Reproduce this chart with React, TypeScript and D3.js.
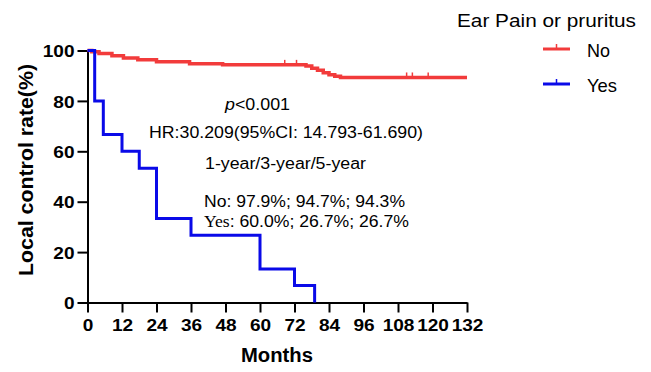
import React, { useEffect, useRef } from "react";
import * as d3 from "d3";

// Kaplan-Meier steps (months, % local control)
const noTimes = [0, 1.5, 4, 8.5, 12.5, 17.5, 24, 35.5, 47, 76, 78, 80, 82, 84, 86, 88, 132];
const noRates = [100, 99.5, 98.8, 97.9, 97.0, 96.3, 95.5, 94.7, 94.3, 93.8, 93.0, 92.2, 91.2, 90.4, 89.8, 89.3, 89.3];
const noCensored = [68.6, 72.7, 111, 113, 118.5];

const yesTimes = [0, 2.5, 5.5, 12, 18, 24, 36, 60, 72, 79];
const yesRates = [100, 80, 66.7, 60, 53.3, 33.3, 26.7, 13.3, 6.7, 0];

const xTicks = [0, 12, 24, 36, 48, 60, 72, 84, 96, 108, 120, 132];
const yTicks = [0, 20, 40, 60, 80, 100];

const groups = ["No", "Yes"];
const colors = { No: "#f23b3b", Yes: "#0a0ae8" };

const FONT = "'Liberation Sans', Arial, sans-serif";

function App() {
  const svgRef = useRef(null);

  useEffect(() => {
    const svg = d3.select(svgRef.current);
    svg.selectAll("*").remove();

    const x = d3.scaleLinear().domain([0, 132]).range([87.5, 467]);
    const y = d3.scaleLinear().domain([0, 100]).range([302.5, 50.5]);

    const line = d3
      .line()
      .curve(d3.curveStepAfter)
      .x((d) => x(d[0]))
      .y((d) => y(d[1]));

    const noData = noTimes.map((t, i) => [t, noRates[i]]);
    const yesData = yesTimes.map((t, i) => [t, yesRates[i]]);

    // axes
    const xAxis = svg
      .append("g")
      .attr("transform", `translate(0,${y(0)})`)
      .call(d3.axisBottom(x).tickValues(xTicks).tickSize(10).tickPadding(6).tickSizeOuter(0));
    const yAxis = svg
      .append("g")
      .attr("transform", `translate(${x(0)},0)`)
      .call(d3.axisLeft(y).tickValues(yTicks).tickSize(10).tickPadding(3).tickSizeOuter(0));

    [xAxis, yAxis].forEach((ax) => {
      ax.select(".domain").attr("stroke", "#000").attr("stroke-width", 2);
      ax.selectAll(".tick line").attr("stroke", "#000").attr("stroke-width", 2);
      ax.selectAll(".tick text")
        .attr("fill", "#000")
        .style("font-family", FONT)
        .style("font-size", "17px")
        .style("font-weight", "bold");
    });
    xAxis.selectAll(".tick text").attr("dy", "0.71em");
    yAxis.selectAll(".tick text").attr("dy", "0.36em");
    // the figure's tick labels are a bit wider than plain Arial bold
    svg.selectAll(".tick text").each(function () {
      const w = this.getComputedTextLength();
      d3.select(this).attr("textLength", w * 1.12).attr("lengthAdjust", "spacingAndGlyphs");
    });

    // curves
    svg
      .append("path")
      .attr("d", line(noData))
      .attr("fill", "none")
      .attr("stroke", colors.No)
      .attr("stroke-width", 3.5);

    svg
      .selectAll(".censor")
      .data(noCensored)
      .enter()
      .append("line")
      .attr("x1", (d) => x(d))
      .attr("x2", (d) => x(d))
      .attr("y1", (d) => y(noRates[d3.bisectRight(noTimes, d) - 1]))
      .attr("y2", (d) => y(noRates[d3.bisectRight(noTimes, d) - 1]) - 5)
      .attr("stroke", colors.No)
      .attr("stroke-width", 1.5);

    svg
      .append("path")
      .attr("d", line(yesData))
      .attr("fill", "none")
      .attr("stroke", colors.Yes)
      .attr("stroke-width", 3);

    // axis titles
    svg
      .append("text")
      .attr("x", 277)
      .attr("y", 362)
      .attr("text-anchor", "middle")
      .style("font-family", FONT)
      .style("font-size", "19.5px")
      .style("font-weight", "bold")
      .attr("textLength", 72)
      .attr("lengthAdjust", "spacingAndGlyphs")
      .text("Months");

    svg
      .append("text")
      .attr("transform", "translate(33,170) rotate(-90)")
      .attr("text-anchor", "middle")
      .style("font-family", FONT)
      .style("font-size", "20px")
      .style("font-weight", "bold")
      .attr("textLength", 212)
      .attr("lengthAdjust", "spacingAndGlyphs")
      .text("Local control rate(%)");

    // legend
    const legend = svg.append("g");
    legend
      .append("text")
      .attr("x", 457)
      .attr("y", 26.5)
      .style("font-family", FONT)
      .style("font-size", "17.5px")
      .attr("textLength", 179)
      .attr("lengthAdjust", "spacingAndGlyphs")
      .text("Ear Pain or pruritus");

    groups.forEach((g, i) => {
      const ly = 49 + i * 35;
      legend
        .append("line")
        .attr("x1", 543)
        .attr("x2", 570)
        .attr("y1", ly)
        .attr("y2", ly)
        .attr("stroke", colors[g])
        .attr("stroke-width", 3);
      legend
        .append("line")
        .attr("x1", 556.5)
        .attr("x2", 556.5)
        .attr("y1", ly)
        .attr("y2", ly - 5)
        .attr("stroke", colors[g])
        .attr("stroke-width", 1.5);
      legend
        .append("text")
        .attr("x", 587)
        .attr("y", ly + 7.5)
        .style("font-family", FONT)
        .style("font-size", "19px")
        .attr("textLength", g === "No" ? 23 : 30)
        .attr("lengthAdjust", "spacingAndGlyphs")
        .text(g);
    });

    // annotations
    const note = (tx, ty, len) =>
      svg
        .append("text")
        .attr("x", tx)
        .attr("y", ty)
        .style("font-family", FONT)
        .style("font-size", "16px")
        .attr("textLength", len)
        .attr("lengthAdjust", "spacingAndGlyphs");

    const p = note(225, 110, 65);
    p.append("tspan").style("font-style", "italic").text("p");
    p.append("tspan").text("<0.001");

    note(149, 138, 274).text("HR:30.209(95%CI: 14.793-61.690)");
    note(205, 169, 161).text("1-year/3-year/5-year");
    note(204, 207, 201).text("No: 97.9%; 94.7%; 94.3%");
    const ys = note(204, 227, 205);
    ys.append("tspan").style("font-family", "'Liberation Serif', 'Times New Roman', serif").text("Yes");
    ys.append("tspan").text(": 60.0%; 26.7%; 26.7%");
  }, []);

  return (
    <svg
      ref={svgRef}
      width={651}
      height={372}
      style={{ position: "absolute", left: 0, top: 0, background: "#fff" }}
    />
  );
}

export default App;
